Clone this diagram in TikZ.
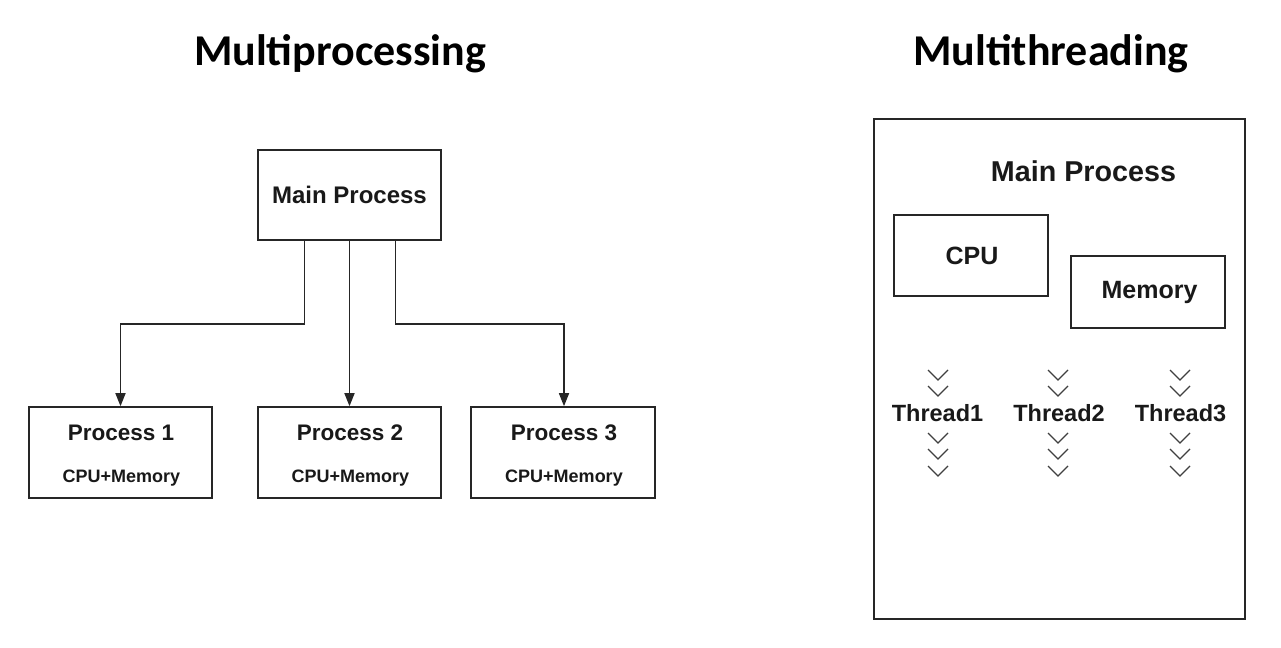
\documentclass[tikz,border=0pt]{standalone}
\usepackage{fontspec}
\setmainfont{Liberation Sans}
\newfontfamily\titlefont{Carlito}
\usetikzlibrary{arrows.meta}
\tikzset{
  boxshape/.style={draw=black!85, line width=1.6bp, rectangle, inner sep=0pt},
  arr/.style={draw=black!85, line width=1.6bp, -{Stealth[length=13bp,width=10bp,inset=0bp]}},
  chev/.style={draw=black!75, line width=1.3bp},
  ttl/.style={font=\titlefont\bfseries\fontsize{44bp}{48bp}\selectfont, inner sep=0pt},
  bigt/.style={font=\bfseries\fontsize{22.5bp}{26bp}\selectfont, text=black!90, inner sep=0pt},
  smallt/.style={font=\bfseries\fontsize{18bp}{22bp}\selectfont, text=black!90, inner sep=0pt},
}
\begin{document}
\begin{tikzpicture}[x=1bp,y=-1bp]
\useasboundingbox[fill=white] (0,0) rectangle (1281,648);

% titles
\node[ttl] (t1) at (340,54) {Multiprocessing};
\node[ttl] (t2) at (1051,54) {Multithreading};

% left: multiprocessing
\node[boxshape, minimum width=183bp, minimum height=90bp] (main) at (349.5,195) {};
\node[bigt, font=\bfseries\fontsize{24bp}{28bp}\selectfont] (maintxt) at (349.5,195) {Main Process};

\node[boxshape, minimum width=183bp, minimum height=91bp] (p1) at (120.5,452.5) {};
\node[boxshape, minimum width=183bp, minimum height=91bp] (p2) at (349.5,452.5) {};
\node[boxshape, minimum width=184bp, minimum height=91bp] (p3) at (563,452.5) {};

\node[bigt] (p1a) at (121,433) {Process 1};
\node[smallt] (p1b) at (121.5,478) {CPU+Memory};
\node[bigt] (p2a) at (350,433) {Process 2};
\node[smallt] (p2b) at (350.5,478) {CPU+Memory};
\node[bigt] (p3a) at (564,433) {Process 3};
\node[smallt] (p3b) at (564,478) {CPU+Memory};

\draw[arr] ([xshift=-45bp]main.south) -- ++(0,83) -| (p1.north);
\draw[arr] (main.south) -- (p2.north);
\draw[arr] ([xshift=46bp]main.south) -- ++(0,83) -| ([xshift=1bp]p3.north);

% right: multithreading
\node[boxshape, minimum width=371bp, minimum height=500bp] (outer) at (1059.5,369) {};
\node[bigt, font=\bfseries\fontsize{28.7bp}{32bp}\selectfont] (mp) at (1083.5,171) {Main Process};
\node[boxshape, minimum width=154bp, minimum height=81bp] (cpu) at (971,255.5) {};
\node[bigt, font=\bfseries\fontsize{25bp}{29bp}\selectfont] (cputxt) at (972,256) {CPU};
\node[boxshape, minimum width=154bp, minimum height=72bp] (mem) at (1148,292) {};
\node[bigt, font=\bfseries\fontsize{25bp}{29bp}\selectfont] (memtxt) at (1149.5,292) {Memory};

\node[bigt, font=\bfseries\fontsize{23.5bp}{27bp}\selectfont] (th1) at (937.5,413) {Thread1};
\node[bigt, font=\bfseries\fontsize{23.5bp}{27bp}\selectfont] (th2) at (1059,413) {Thread2};
\node[bigt, font=\bfseries\fontsize{23.5bp}{27bp}\selectfont] (th3) at (1180.5,413) {Thread3};

\foreach \cx in {938,1058,1180}{
  \foreach \cy in {375,391,438,454,471}{
    \draw[chev] (\cx-10,\cy-5) -- (\cx,\cy+5) -- (\cx+10,\cy-5);
  }
}
\end{tikzpicture}
\end{document}
